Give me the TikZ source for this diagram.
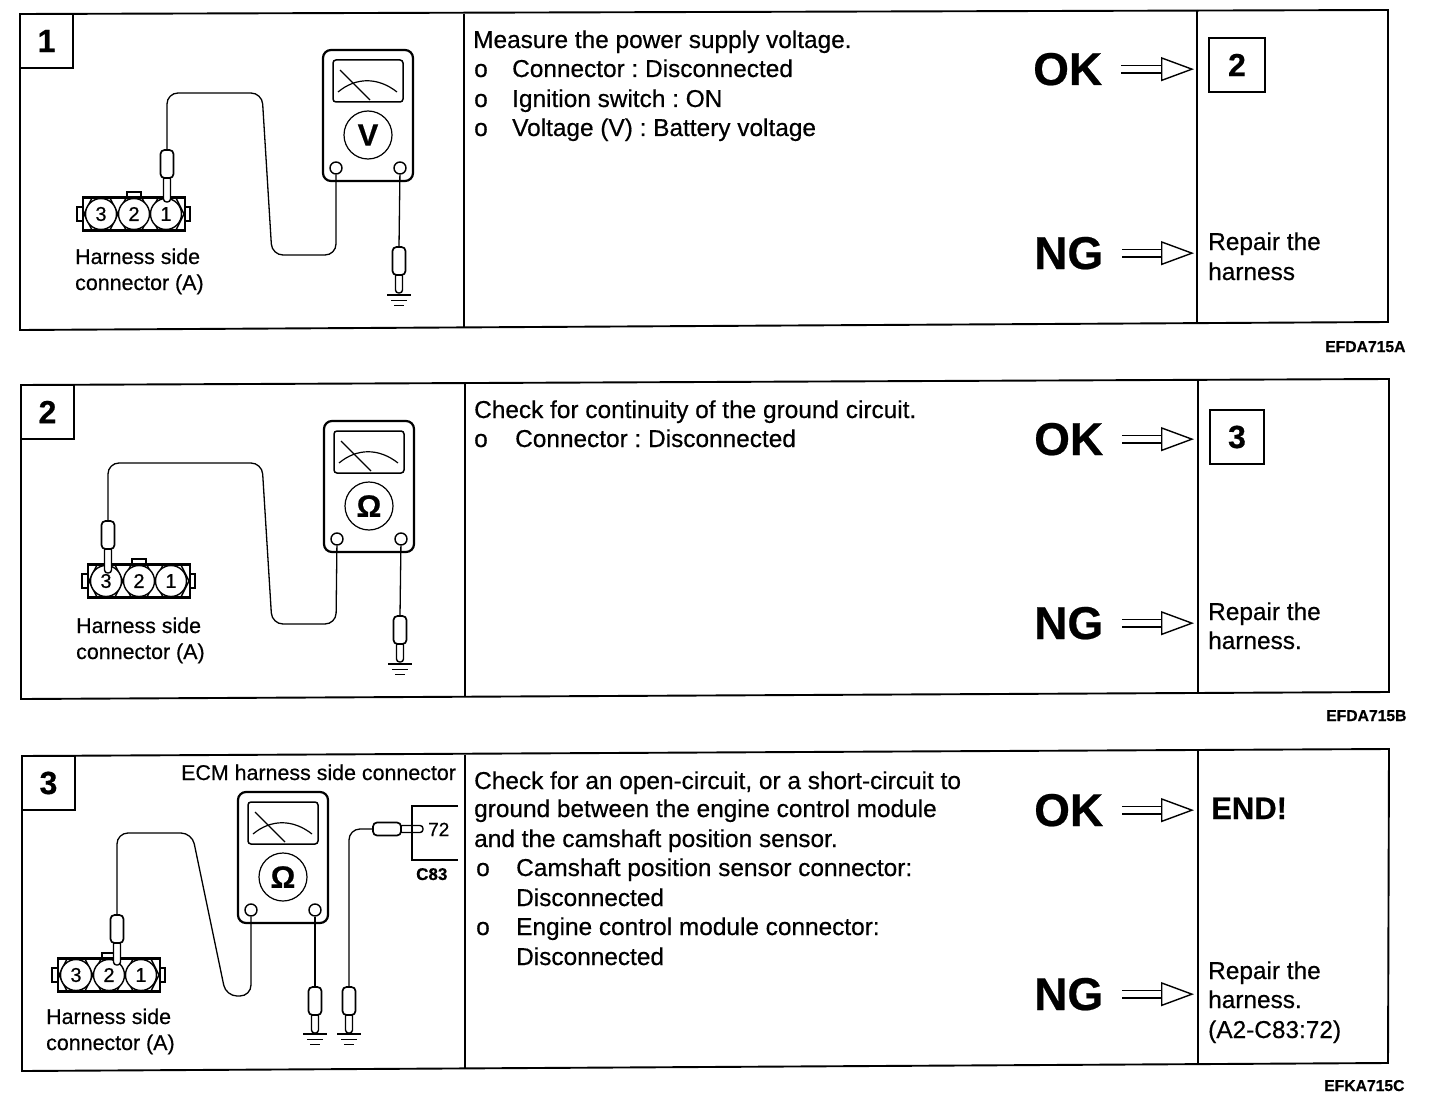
\documentclass[tikz,border=0pt]{standalone}
\usepackage{fontspec}
\setmainfont{Liberation Sans}[FakeBold=0.5]
\usepackage{tikz}
\usetikzlibrary{arrows.meta, calc}
\newcommand{\px}[1]{\fontsize{#1}{#1}\selectfont}
\tikzstyle{frame} = [draw, line width=1.9pt]
\tikzstyle{wire} = [draw, line width=1.3pt, rounded corners=11pt]
\tikzstyle{body} = [anchor=base west, inner sep=0pt, font=\px{24.4}]
\tikzstyle{side} = [anchor=base west, inner sep=0pt, font=\px{21.4}]
\tikzstyle{code} = [anchor=base west, inner sep=0pt, font=\bfseries\px{15.7}]
\tikzstyle{verdict} = [anchor=base west, inner sep=0pt, font=\bfseries\px{46}]
\tikzstyle{stepno} = [draw, line width=1.7pt, anchor=north west, inner sep=0pt, outer sep=0pt, minimum width=53pt, minimum height=54pt, font=\bfseries\px{32}]
\tikzstyle{hollow} = [draw, line width=1.4pt, double, double distance=6pt, -{Triangle[open, length=33pt, width=24pt]}, shorten <=19pt]
\tikzset{
  pics/meter/.style={code={
    \draw [line width=2.2pt, fill=white, rounded corners=8pt] (-45,0) rectangle (45,131);
    \draw [line width=1.5pt, rounded corners=3pt] (-35,10) rectangle (35,52);
    \draw [line width=1.2pt] (-30,42) .. controls (-12,27) and (10,27) .. (29,42);
    \draw [line width=1.2pt] (-28,20) -- (2,50);
    \node [circle, draw, line width=1.2pt, minimum size=48pt, inner sep=0pt, font=\bfseries\px{31}] (-dial) at (0,85) {#1};
    \node [circle, draw, line width=1.4pt, fill=white, minimum size=12pt, inner sep=0pt] (-left) at (-32,118) {};
    \node [circle, draw, line width=1.4pt, fill=white, minimum size=12pt, inner sep=0pt] (-right) at (32,118) {};
  }},
  pics/plug/.style={code={
    \draw [line width=1.4pt, fill=white] (-57,-7) rectangle (-51,7);
    \draw [line width=1.4pt, fill=white] (51,-7) rectangle (56,7);
    \draw [line width=1.4pt, fill=white] (-7,-22) rectangle (7,-16.5);
    \begin{scope}
      \clip (-51,-16.5) rectangle (51,16.5);
      \foreach \gapx in {-50,-16,16,50}
        \draw [line width=1.4pt] (\gapx-8,-16) -- (\gapx+8,16) (\gapx-8,16) -- (\gapx+8,-16);
    \end{scope}
    \draw [line width=2.4pt] (-51,-16.5) rectangle (51,16.5);
    \foreach \pinx/\pinno in {-33/3,0/2,32/1}
      \node [circle, draw, line width=1.4pt, fill=white, minimum size=31pt, inner sep=0pt, font=\px{20}] (-pin\pinno) at (\pinx,0) {\pinno};
  }},
  pics/probe/.style={code={
    \coordinate (-top) at (0,0);
    \draw [line width=1.4pt, fill=white, rounded corners=3pt] (-3.5,26) rectangle (3.5,28+#1);
    \draw [line width=1.7pt, fill=white, rounded corners=4pt] (-6.5,0) rectangle (6.5,28);
  }},
  pics/earth/.style={code={
    \draw [line width=1.5pt] (-12,0) -- (12,0) (-8,5.5) -- (8,5.5) (-5,10.5) -- (5,10.5);
  }}
}

\begin{document}
\frenchspacing
\begin{tikzpicture}[x=1pt, y=-1pt]
        \useasboundingbox (0,0) rectangle (1440,1110);

        % step 1
        \draw [frame] (20,14) -- (1388,10) -- (1388,322) -- (20,330) -- cycle;
        \draw [frame] (464,14) -- (464,328);
        \draw [frame] (1197,10) -- (1197,322);
        \node [stepno] (stepa) at (20,14) {1};
        \pic (ma) at (368,50) {meter=V};
        \pic (ca) at (134,214) {plug};
        \pic (pa) at (167,150) {probe=24};
        \pic (ga) at (399,247) {probe=18};
        \pic (ea) at (399,295) {earth};
        \path [wire] (pa-top) -- (167,93) -- (262,93) -- (272,255) -- (336,255) -- (ma-left);
        \path [wire] (ma-right) -- (ga-top);
        \node [side] (harnessa) at (75,264) {Harness side};
        \node [side] (harnessb) at (75,290) {connector (A)};
        \node [body] at (473,48) {Measure the power supply voltage.};
        \node [body] at (474,77) {o};
        \node [body] at (512,77) {Connector : Disconnected};
        \node [body] at (474,107) {o};
        \node [body] at (512,107) {Ignition switch : ON};
        \node [body] at (474,136) {o};
        \node [body] at (512,136) {Voltage (V) : Battery voltage};
        \node [verdict] (oka) at (1033,85) {OK};
        \node [verdict] (nga) at (1034,269) {NG};
        \coordinate (tipa) at (1194,0);
        \draw [hollow] (oka.east) -- (oka.east -| tipa);
        \draw [hollow] (nga.east) -- (nga.east -| tipa);
        \node [stepno, minimum width=56pt] (nexta) at (1209,38) {2};
        \node [body] at (1208,250) {Repair the};
        \node [body] at (1208,280) {harness};
        \node [code] at (1325,352) {EFDA715A};

        % step 2
        \draw [frame] (21,385) -- (1389,379) -- (1389,692) -- (21,699) -- cycle;
        \draw [frame] (465,384) -- (465,697);
        \draw [frame] (1198,379) -- (1198,692);
        \node [stepno] (stepb) at (21,385) {2};
        \pic (mb) at (369,421) {meter=Ω};
        \pic (cb) at (139,581) {plug};
        \pic (pb) at (108,521) {probe=24};
        \pic (gb) at (400,616) {probe=18};
        \pic (eb) at (400,664) {earth};
        \path [wire] (pb-top) -- (108,463) -- (262,463) -- (272,624) -- (336,624) -- (mb-left);
        \path [wire] (mb-right) -- (gb-top);
        \node [side] (harnessc) at (76,633) {Harness side};
        \node [side] (harnessd) at (76,659) {connector (A)};
        \node [body] at (474,418) {Check for continuity of the ground circuit.};
        \node [body] at (474,447) {o};
        \node [body] at (515,447) {Connector : Disconnected};
        \node [verdict] (okb) at (1034,455) {OK};
        \node [verdict] (ngb) at (1034,639) {NG};
        \coordinate (tipb) at (1194,0);
        \draw [hollow] (okb.east) -- (okb.east -| tipb);
        \draw [hollow] (ngb.east) -- (ngb.east -| tipb);
        \node [stepno, minimum width=54pt] (nextb) at (1210,410) {3};
        \node [body] at (1208,620) {Repair the};
        \node [body] at (1208,649) {harness.};
        \node [code] at (1326,721) {EFDA715B};

        % step 3
        \draw [frame] (22,756) -- (1389,749) -- (1388,1063) -- (22,1071) -- cycle;
        \draw [frame] (465,755) -- (465,1069);
        \draw [frame] (1198,749) -- (1198,1063);
        \node [stepno] (stepc) at (22,756) {3};
        \node [side] (ecm) at (181,780) {ECM harness side connector};
        \pic (mc) at (283,792) {meter=Ω};
        \pic (cc) at (109,975) {plug};
        \pic (pc) at (117,915) {probe=22};
        \pic (gc) at (315,987) {probe=18};
        \pic (ec) at (315,1034) {earth};
        \pic (gd) at (349,987) {probe=18};
        \pic (ed) at (349,1034) {earth};
        \pic [rotate=90] (ph) at (373,829) {probe=22};
        \path [wire] (pc-top) -- (117,833) -- (192,833) -- (226,996) -- (251,996) -- (mc-left);
        \path [wire] (mc-right) -- (gc-top);
        \path [wire] (gd-top) -- (349,829) -- (ph-top);
        \draw [line width=1.3pt] (458,806) -- (412,806) -- (412,860) -- (458,860);
        \node [side, font=\px{19}] (pinno) at (428,836) {72};
        \node [code, font=\bfseries\px{17}] (cname) at (416,880) {C83};
        \node [side] (harnesse) at (46,1024) {Harness side};
        \node [side] (harnessf) at (46,1050) {connector (A)};
        \node [body] at (474,789) {Check for an open-circuit, or a short-circuit to};
        \node [body] at (474,817) {ground between the engine control module};
        \node [body] at (474,847) {and the camshaft position sensor.};
        \node [body] at (476,876) {o};
        \node [body] at (516,876) {Camshaft position sensor connector:};
        \node [body] at (516,906) {Disconnected};
        \node [body] at (476,935) {o};
        \node [body] at (516,935) {Engine control module connector:};
        \node [body] at (516,965) {Disconnected};
        \node [verdict] (okc) at (1034,826) {OK};
        \node [verdict] (ngc) at (1034,1010) {NG};
        \coordinate (tipc) at (1194,0);
        \draw [hollow] (okc.east) -- (okc.east -| tipc);
        \draw [hollow] (ngc.east) -- (ngc.east -| tipc);
        \node [anchor=base west, inner sep=0pt, font=\bfseries\px{31}] (nextc) at (1211,819) {END!};
        \node [body] at (1208,979) {Repair the};
        \node [body] at (1208,1008) {harness.};
        \node [body] at (1208,1038) {(A2-C83:72)};
        \node [code] at (1324,1091) {EFKA715C};
    \end{tikzpicture}
\end{document}
